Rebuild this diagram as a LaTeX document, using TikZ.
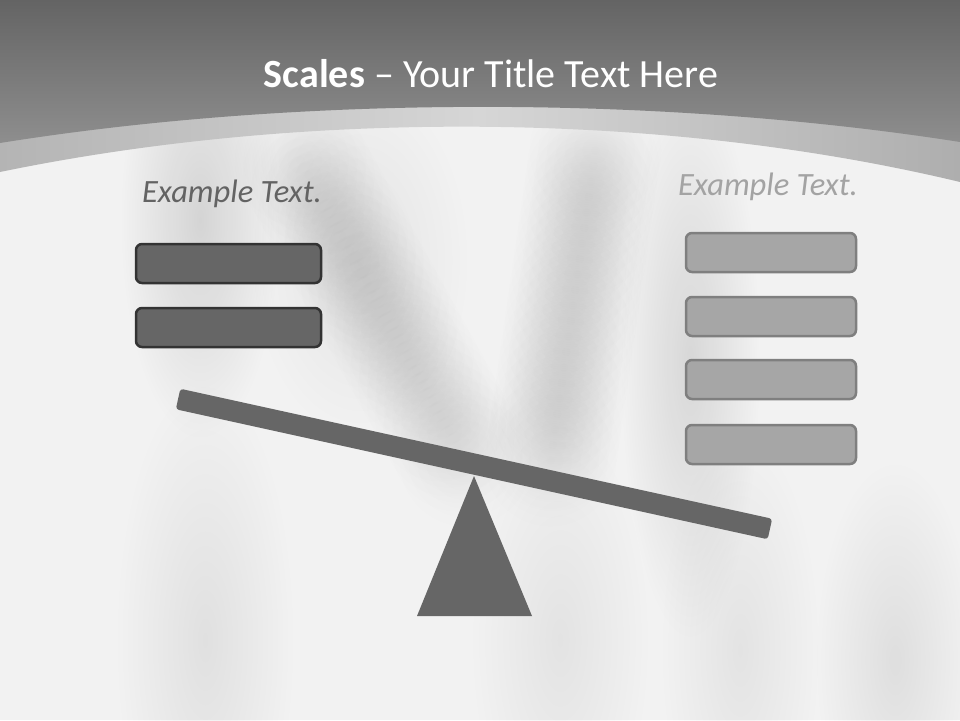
\documentclass[tikz,border=0pt]{standalone}
\usepackage{fontspec}
\setmainfont{Carlito}
\usetikzlibrary{fadings}
\definecolor{bgc}{HTML}{F2F2F2}
\definecolor{headtop}{HTML}{646464}
\definecolor{headbot}{HTML}{8E8E8E}
\definecolor{bandl}{HTML}{B4B4B4}
\definecolor{bandm}{HTML}{D6D6D6}
\definecolor{bandr}{HTML}{AEAEAE}
\definecolor{darkfill}{HTML}{666666}
\definecolor{darkline}{HTML}{333333}
\definecolor{lightfill}{HTML}{A6A6A6}
\definecolor{lightline}{HTML}{7F7F7F}
\definecolor{labeldark}{HTML}{636363}
\definecolor{labellight}{HTML}{A3A3A3}
\tikzfading[name=softblob, inner color=transparent!0, outer color=transparent!100]
\begin{document}
\begin{tikzpicture}[x=1pt,y=-1pt,
  darkbox/.style={draw=darkline, fill=darkfill, line width=2.5pt, rounded corners=6pt,
    minimum width=185pt, minimum height=39pt, inner sep=0pt},
  lightbox/.style={draw=lightline, fill=lightfill, line width=2.5pt, rounded corners=6pt,
    minimum width=170pt, minimum height=39pt, inner sep=0pt},
  lbl/.style={font=\fontsize{32.5}{36}\selectfont\itshape, anchor=base, inner sep=0pt},
  beamstyle/.style={fill=darkfill, rounded corners=3pt, minimum width=606pt,
    minimum height=21pt, inner sep=0pt},
  blob/.style={fill=black, path fading=softblob}]
\useasboundingbox (0,0) rectangle (960,720);
\fill[bgc] (0,0) rectangle (960,720);
% soft drapery shading
\foreach \x/\y/\rx/\ry/\o in {
  200/220/80/220/0.12, 205/640/90/260/0.07, 690/360/70/280/0.11,
  740/650/80/220/0.06, 895/660/80/200/0.08, 360/260/110/180/0.06,
  560/640/90/220/0.06}{
  \fill[blob, fill opacity=\o] (\x,\y) ellipse [x radius=\rx, y radius=\ry];
}
\foreach \t in {0,0.05,...,1.01}{
  \fill[blob, fill opacity=0.03] ({300+165*\t},{160+300*\t}) ellipse [x radius=70, y radius=70];
  \fill[blob, fill opacity=0.03] ({595-45*\t},{150+310*\t}) ellipse [x radius=70, y radius=70];
}
% light band
\shade[left color=bandl, right color=bandr, middle color=bandm]
  (0,0) -- (0,172) .. controls (300,110) and (660,110) .. (960,182) -- (960,0) -- cycle;
% dark header
\shade[top color=headtop, bottom color=headbot]
  (0,0) -- (0,143) .. controls (300,95) and (660,95) .. (960,142) -- (960,0) -- cycle;
% title
\node[anchor=base, text=white, inner sep=0pt, font=\fontsize{40}{46}\selectfont] (title) at (491,87)
  {\textbf{Scales} – Your Title Text Here};
% labels
\node[lbl, text=labeldark] (ltxt) at (232,202) {Example Text.};
\node[lbl, text=labellight] (rtxt) at (768,195) {Example Text.};
% left boxes
\node[darkbox] (l1) at (228.5,263.5) {};
\node[darkbox] (l2) at (228.5,327.5) {};
% right boxes
\node[lightbox] (r1) at (771,252.5) {};
\node[lightbox] (r2) at (771,316.5) {};
\node[lightbox] (r3) at (771,379.5) {};
\node[lightbox] (r4) at (771,444.5) {};
% seesaw
\fill[darkfill] (474,476) -- (532,616) -- (417,616) -- cycle;
\node[beamstyle, rotate=-12.39] (beam) at (474,464) {};
\end{tikzpicture}
\end{document}
